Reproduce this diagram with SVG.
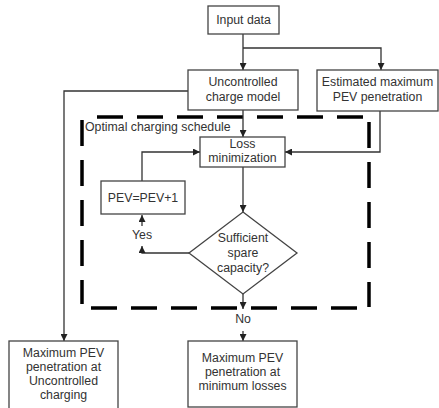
<svg xmlns="http://www.w3.org/2000/svg" width="439" height="408" viewBox="0 0 439 408">
<defs>
<marker id="arr" viewBox="0 0 10 10" refX="10" refY="5" markerWidth="7" markerHeight="7" markerUnits="userSpaceOnUse" orient="auto">
<path d="M0,0 L10,5 L0,10 z" fill="#222"/>
</marker>
</defs>
<style>
.box{fill:#fff;stroke:#444;stroke-width:1.3}
.t{font-family:"Liberation Sans",Arial,sans-serif;font-size:12.3px;fill:#333;text-anchor:middle}
.c{fill:none;stroke:#333;stroke-width:1.3}
.ca{fill:none;stroke:#333;stroke-width:1.3;marker-end:url(#arr)}
.d{fill:none;stroke:#000;stroke-width:3.5;stroke-dasharray:26 14}
</style>
<rect width="439" height="408" fill="#fff"/>
<g id="group">
<path class="d" d="M97,117 H369"/>
<path class="d" d="M369,122 V307"/>
<path class="d" d="M91,308 H369"/>
<path class="d" d="M82,120 V304"/>
<text class="t" x="85" y="131" style="text-anchor:start">Optimal charging schedule</text>
</g>
<g id="connectors">
<path class="ca" d="M243,34 V70"/>
<path class="ca" d="M243,48 H381 V70"/>
<path class="ca" d="M243,110 V137"/>
<path class="ca" d="M380,111 V152 H285"/>
<path class="ca" d="M188,91 H64 V341"/>
<path class="ca" d="M243,167 V212"/>
<path class="ca" d="M142,181 V152 H200"/>
<path class="ca" d="M189,253 H142 V246"/>
<path class="ca" d="M142,226 V215"/>
<text class="t" x="142" y="239">Yes</text>
<path class="ca" d="M243,294 V309"/>
<text class="t" x="243" y="323">No</text>
<path class="ca" d="M243,331 V341"/>
</g>
<g id="input">
<rect class="box" x="208" y="6" width="71" height="28"/>
<text class="t" x="243.5" y="24">Input data</text>
</g>
<g id="uncontrolled">
<rect class="box" x="188" y="70" width="110" height="40"/>
<text class="t" x="243" y="86">Uncontrolled</text>
<text class="t" x="243" y="101">charge model</text>
</g>
<g id="estimated">
<rect class="box" x="317" y="70" width="121" height="41"/>
<text class="t" x="377.5" y="86">Estimated maximum</text>
<text class="t" x="377.5" y="101">PEV penetration</text>
</g>
<g id="loss">
<rect class="box" x="200" y="137" width="85" height="30"/>
<text class="t" x="242.5" y="148">Loss</text>
<text class="t" x="242.5" y="162">minimization</text>
</g>
<g id="pev">
<rect class="box" x="101" y="181" width="84" height="33"/>
<text class="t" x="143" y="202">PEV=PEV+1</text>
</g>
<g id="decision">
<path class="box" d="M243,212 L297,253 L243,294 L189,253 Z"/>
<text class="t" x="243" y="242">Sufficient</text>
<text class="t" x="243" y="257">spare</text>
<text class="t" x="243" y="272">capacity?</text>
</g>
<g id="maxUncontrolled">
<rect class="box" x="9" y="341" width="109" height="68"/>
<text class="t" x="63.5" y="357">Maximum PEV</text>
<text class="t" x="63.5" y="371">penetration at</text>
<text class="t" x="63.5" y="385">Uncontrolled</text>
<text class="t" x="63.5" y="399">charging</text>
</g>
<g id="maxMinLosses">
<rect class="box" x="188" y="341" width="109" height="66"/>
<text class="t" x="242.5" y="362">Maximum PEV</text>
<text class="t" x="242.5" y="376">penetration at</text>
<text class="t" x="242.5" y="390">minimum losses</text>
</g>
</svg>
